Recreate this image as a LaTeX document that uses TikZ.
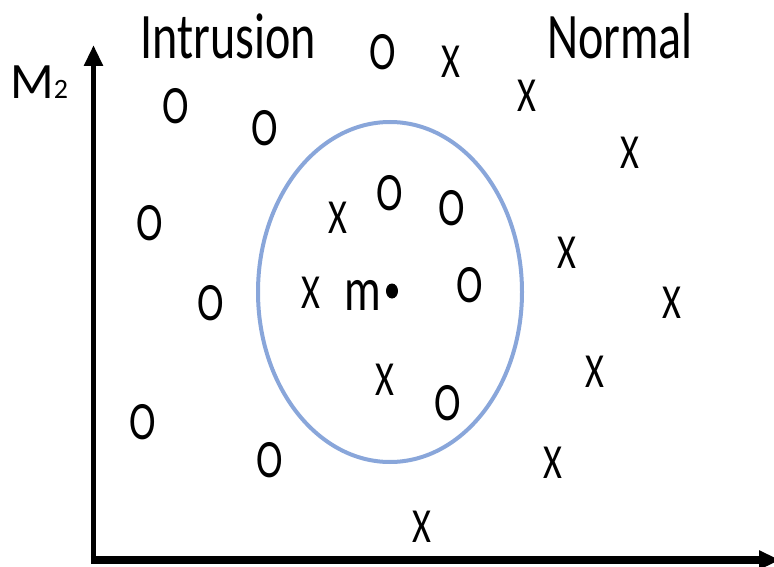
\documentclass[tikz,border=0pt]{standalone}
\usepackage{fontspec}
\setmainfont{Carlito}
\usetikzlibrary{arrows.meta}
\definecolor{ringblue}{RGB}{137,166,218}
\tikzset{
  omark/.style={inner sep=0pt, xscale=0.74, font=\fontsize{54}{54}\selectfont},
  xmark/.style={inner sep=0pt, xscale=0.74, font=\fontsize{49}{49}\selectfont},
  lbl/.style={inner sep=0pt, xscale=0.74, font=\fontsize{65}{65}\selectfont},
  axis/.style={line width=#1, -{Triangle[length=21pt,width=18pt]}}
}
\begin{document}
\begin{tikzpicture}[x=1pt,y=-1pt]
\useasboundingbox (0,0) rectangle (774,567);
% axes
\coordinate (o) at (93.5,560);
\coordinate (ytip) at (93.5,45);
\coordinate (xtip) at (780,560);
\draw[axis=5.5pt] ([yshift=-3.5pt]o) -- (ytip);
\draw[axis=7.5pt] ([xshift=-2.75pt]o) -- (xtip);
% labels
\node[lbl] (intr) at (228,36) {Intrusion};
\node[lbl] (norm) at (620,36) {Normal};
\node[inner sep=0pt, anchor=base west, font=\fontsize{51}{51}\selectfont] (m2) at (10,99) {M\fontsize{28}{28}\selectfont 2};
% ring
\draw[ringblue, line width=4pt] (390,292) ellipse [x radius=132, y radius=170];
% O points
\foreach \n/\x/\y in {o1/383/52, o2/176/106, o3/265/128, o4/150/223, o5/211/303, o6/143/422, o7/270/460, o8/390/193, o9/452/208, o10/470/285, o11/448/403}
  \node[omark] (\n) at (\x,\y) {O};
% X points
\foreach \n/\x/\y in {x1/451/62, x2/527/96, x3/630/153, x4/338/218, x5/567/253, x6/311/293, x7/672/303, x8/385/380, x9/595/372, x10/553/463, x11/422/527}
  \node[xmark] (\n) at (\x,\y) {X};
% mean
\node[inner sep=0pt, anchor=base, xscale=0.74, font=\fontsize{62}{62}\selectfont] (m) at (363,310) {m};
\coordinate (mdot) at (392,291);
\fill (mdot) ellipse [x radius=6, y radius=7.5];
\end{tikzpicture}
\end{document}
